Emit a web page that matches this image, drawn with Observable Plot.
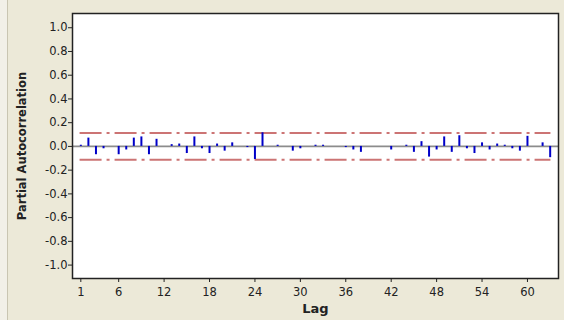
<!DOCTYPE html>
<html>
<head>
<meta charset="utf-8">
<script src="https://cdn.jsdelivr.net/npm/d3@7"></script>
<script src="https://cdn.jsdelivr.net/npm/@observablehq/plot@0.6"></script>
<style>
  html, body { margin: 0; padding: 0; background: #ECE9D8; width: 564px; height: 320px; overflow: hidden; }
  #strip { position: absolute; left: 0; top: 0; width: 7px; height: 320px; background: #F2F0E8; border-right: 1px solid #C9C5B2; }
  #chart { position: absolute; left: 0; top: 0; }
  svg { font-family: "DejaVu Sans", Verdana, sans-serif; }
</style>
</head>
<body>
<div id="strip"></div>
<div id="chart"></div>
<script>
const lags = d3.range(1, 64);
const pacf = [
  0.01, 0.07, -0.07, -0.02, 0.0, -0.07, -0.03, 0.07, 0.08, -0.07,
  0.06, 0.0, 0.015, 0.02, -0.06, 0.08, -0.02, -0.06, 0.02, -0.04,
  0.03, 0.0, -0.01, -0.11, 0.115, 0.0, 0.01, 0.0, -0.04, -0.02,
  0.0, 0.01, 0.01, 0.0, 0.0, -0.01, -0.03, -0.05, 0.0, 0.0,
  0.0, -0.03, 0.0, 0.01, -0.05, 0.04, -0.09, -0.03, 0.08, -0.05,
  0.09, -0.02, -0.06, 0.03, -0.03, 0.02, 0.01, -0.02, -0.04, 0.085,
  0.0, 0.03, -0.095
];
const limit = 0.112;
const xTicks = [1, 6, 12, 18, 24, 30, 36, 42, 48, 54, 60];
const yTicks = [-1.0, -0.8, -0.6, -0.4, -0.2, 0.0, 0.2, 0.4, 0.6, 0.8, 1.0];

const data = lags.map((l, i) => ({lag: l, pacf: pacf[i]}));

const chart = Plot.plot({
  width: 564,
  height: 320,
  marginLeft: 72,
  marginRight: 6,
  marginTop: 13,
  marginBottom: 42,
  style: {background: "transparent", fontSize: "11px", color: "#222"},
  x: {domain: [-0.1, 64.1]},
  y: {domain: [-1.113, 1.12]},
  marks: [
    Plot.frame({fill: "white", stroke: "none"}),
    Plot.ruleY([0], {stroke: "#8c8c8c", strokeWidth: 1.6}),
    Plot.ruleY([limit, -limit], {x1: 0.9, x2: 63.1, stroke: "#CC7474", strokeWidth: 2, strokeDasharray: "22,5,3,5"}),
    Plot.ruleX(data, {x: "lag", y1: 0, y2: "pacf", stroke: "#0000C8", strokeWidth: 2}),
    Plot.frame({stroke: "#222", strokeWidth: 1.5}),
    Plot.axisY({ticks: yTicks, tickFormat: d => d.toFixed(1), tickSize: 4, tickPadding: 1, stroke: "#222", fontSize: 11.5, label: null}),
    Plot.axisX({ticks: xTicks, tickFormat: d => String(d), tickSize: 4, tickPadding: 5, stroke: "#222", fontSize: 11.5, label: null}),
    Plot.text(["Partial Autocorrelation"], {frameAnchor: "left", textAnchor: "middle", dx: -50, rotate: -90, fontWeight: "bold", fontSize: 11.5, fill: "#222"}),
    Plot.text(["Lag"], {frameAnchor: "bottom", dy: 34, fontWeight: "bold", fontSize: 13, fill: "#222"})
  ]
});
document.getElementById("chart").appendChild(chart);
</script>
</body>
</html>
